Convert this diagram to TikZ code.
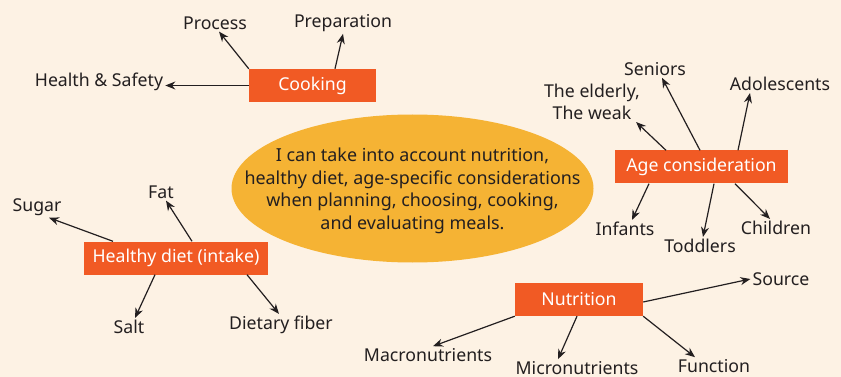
\documentclass[tikz,border=0pt]{standalone}
\usepackage{fontspec}
\setmainfont{Noto Sans}
\usetikzlibrary{arrows.meta}
\tikzset{
  topic/.style={fill=kOrange,text=white,minimum height=33pt,inner sep=0pt,font=\fontsize{17.7}{21}\selectfont},
  leaf/.style={text=kText,inner sep=2pt,font=\fontsize{17.7}{21}\selectfont,align=center},
  link/.style={draw=kText,line width=1.2pt,-{Stealth[length=10pt,width=8pt]}}
}
\begin{document}
\begin{tikzpicture}[x=1pt,y=-1pt]
  % colors
  \definecolor{kBack}{RGB}{253,242,228}
  \definecolor{kOrange}{RGB}{241,90,36}
  \definecolor{kGold}{RGB}{245,179,52}
  \definecolor{kText}{RGB}{35,31,32}
  % background
  \fill[kBack] (0,0) rectangle (841,377);
  \useasboundingbox (0,0) rectangle (841,377);
  % centre
  \fill[kGold] (412.5,188.5) ellipse (181 and 74);
  \node[leaf,font=\fontsize{17.9}{22.5}\selectfont] (goal) at (412.5,191)
    {I can take into account nutrition,\\healthy diet, age-specific considerations\\when planning, choosing, cooking,\\and evaluating meals.};
  % cooking
  \node[topic,minimum width=127pt] (cook) at (312.5,85.5) {Cooking};
  \node[leaf] (process) at (215,23) {Process};
  \node[leaf] (prep) at (343,23) {Preparation};
  \node[leaf] (health) at (99,82) {Health \& Safety};
  \draw[link] (cook.north west) -- ([xshift=4]process.south);
  \draw[link] ([xshift=22.5]cook.north) -- (prep.south);
  \draw[link] (cook.west) -- (health.east |- cook.west);
  % age
  \node[topic,minimum width=173pt] (age) at (701.5,167) {Age consideration};
  \node[leaf] (seniors) at (655,69) {Seniors};
  \node[leaf,font=\fontsize{17.7}{22}\selectfont] (elderly) at (592,102) {The elderly,\\The weak};
  \node[leaf] (adol) at (780,84) {Adolescents};
  \node[leaf] (infants) at (625,229) {Infants};
  \node[leaf] (toddlers) at (700,246) {Toddlers};
  \node[leaf] (children) at (776,228) {Children};
  \draw[link] ([xshift=-1.5]age.north) -- ([xshift=7]seniors.south);
  \draw[link] ([xshift=-35.5]age.north) -- ([xshift=-6]elderly.south east);
  \draw[link] ([xshift=36.5]age.north) -- ([xshift=-30]adol.south);
  \draw[link] ([xshift=-52.5]age.south) -- ([xshift=7]infants.north);
  \draw[link] ([xshift=12.5]age.south) -- ([xshift=3]toddlers.north);
  \draw[link] ([xshift=33.5]age.south) -- ([xshift=-6]children.north);
  % healthy diet
  \node[topic,minimum width=184pt] (diet) at (176,258) {Healthy diet (intake)};
  \node[leaf] (sugar) at (37,207) {Sugar};
  \node[leaf] (fat) at (161,192) {Fat};
  \node[leaf] (salt) at (129,327) {Salt};
  \node[leaf] (fiber) at (281,325) {Dietary fiber};
  \draw[link] ([xshift=-63]diet.north) -- ([xshift=12]sugar.south);
  \draw[link] ([xshift=16]diet.north) -- ([xshift=5]fat.south);
  \draw[link] ([xshift=-21]diet.south) -- ([xshift=6]salt.north);
  \draw[link] ([xshift=71]diet.south) -- ([xshift=-2]fiber.north);
  % nutrition
  \node[topic,minimum width=128pt] (nutr) at (579,299.5) {Nutrition};
  \node[leaf] (source) at (781,279) {Source};
  \node[leaf] (macro) at (428,355) {Macronutrients};
  \node[leaf] (micro) at (577,368) {Micronutrients};
  \node[leaf] (func) at (714,366) {Function};
  \draw[link] ([yshift=-2.5]nutr.east) -- (source.west);
  \draw[link] (nutr.south west) -- ([xshift=5]macro.north);
  \draw[link] ([xshift=-2]nutr.south) -- ([xshift=-19]micro.north);
  \draw[link] (nutr.south east) -- ([xshift=-19]func.north);
\end{tikzpicture}
\end{document}
